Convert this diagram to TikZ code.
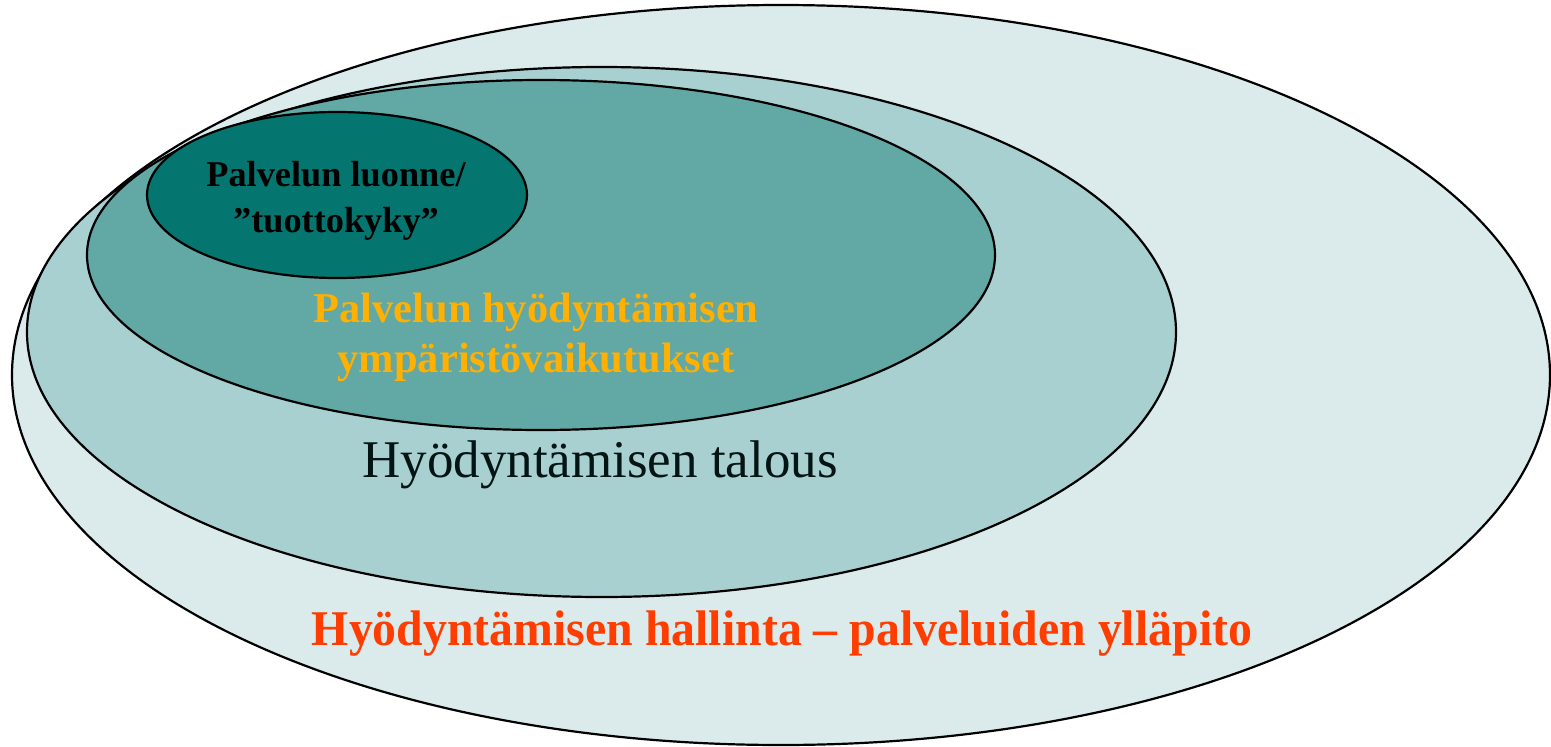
\documentclass[tikz,border=0pt]{standalone}
\usepackage{fontspec}
\setmainfont{Liberation Serif}
\definecolor{ringA}{HTML}{DBEBEB}
\definecolor{ringB}{HTML}{A8D0D0}
\definecolor{ringC}{HTML}{62A8A5}
\definecolor{ringD}{HTML}{04756F}
\definecolor{txtOrange}{HTML}{FFB000}
\definecolor{txtRed}{HTML}{FF3D00}
\definecolor{txtDark}{HTML}{031414}
\tikzset{
  ring/.style={draw=black, line width=2.2pt},
  lbl/.style={inner sep=0pt, align=center}
}
\begin{document}
\begin{tikzpicture}[x=1pt,y=-1pt]
\useasboundingbox (0,0) rectangle (1551,747);
\draw[ring, fill=ringA] (781,375) ellipse [x radius=769, y radius=370];
\draw[ring, fill=ringB] (601.5,332) ellipse [x radius=574.5, y radius=265];
\draw[ring, fill=ringC] (541,255) ellipse [x radius=454, y radius=175];
\draw[ring, fill=ringD] (337,195) ellipse [x radius=190, y radius=83];
\node[lbl, font=\fontsize{36.3}{46}\selectfont\bfseries, text=black] (core) at (336,201) {Palvelun luonne/\\”tuottokyky”};
\node[lbl, font=\fontsize{42.5}{50}\selectfont\bfseries, text=txtOrange] (env) at (536,337) {Palvelun hyödyntämisen\\ympäristövaikutukset};
\node[lbl, font=\fontsize{53}{60}\selectfont, text=txtDark] (econ) at (600,465) {Hyödyntämisen talous};
\node[lbl, font=\fontsize{50}{60}\selectfont\bfseries, text=txtRed, xscale=0.956] (mgmt) at (782,634) {Hyödyntämisen hallinta – palveluiden ylläpito};
\end{tikzpicture}
\end{document}
